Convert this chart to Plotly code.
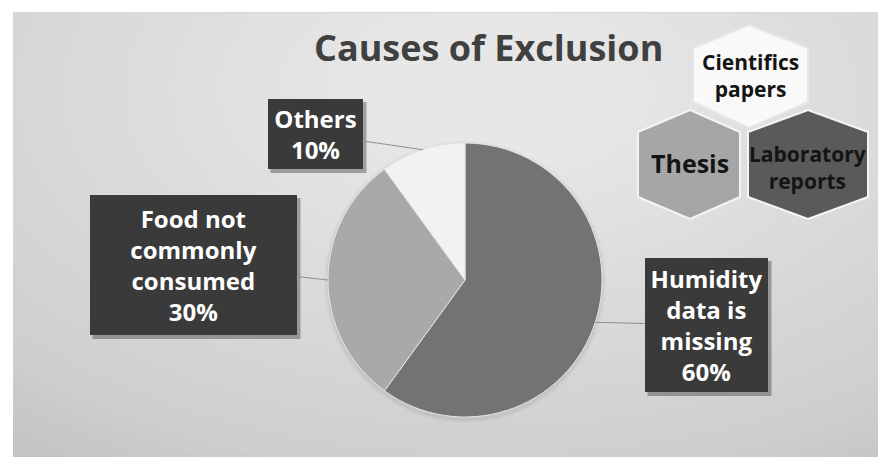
import plotly.graph_objects as go
import math

# ---- data ----
categories = ["Humidity data is missing", "Food not commonly consumed", "Others"]
label_lines = ["Humidity<br>data is<br>missing", "Food not<br>commonly<br>consumed", "Others"]
shares = [60, 30, 10]
slice_colors = ["#737373", "#a9a9a9", "#f2f2f2"]
title_text = "Causes of Exclusion"
hex_labels = ["Cientifics<br>papers", "Thesis", "Laboratory<br>reports"]

W, H = 878, 457
def px(x):
    return x / W
def py(y):
    return 1 - y / H

# pie geometry (pixels)
CX, CY, R = 465, 280, 137

fig = go.Figure()
fig.add_trace(go.Pie(
    labels=categories, values=shares, sort=False, direction="clockwise", rotation=0,
    marker=dict(colors=slice_colors, line=dict(color="#e4e4e4", width=1)),
    textinfo="none", showlegend=False,
    domain=dict(x=[px(CX - R), px(CX + R)], y=[py(CY + R), py(CY - R)]),
))

shapes = []
# background panel
shapes.append(dict(type="rect", xref="paper", yref="paper", x0=px(13), x1=1, y0=0, y1=py(12),
                   fillcolor="#c4c4c4", line=dict(width=0), layer="below"))
# radial light gradient
n = 32
for i in range(n):
    rx = 760 - i * 22
    ry = rx * 0.58
    gx, gy = 490, 90
    shapes.append(dict(type="circle", xref="paper", yref="paper",
                       x0=px(gx - rx), x1=px(gx + rx), y0=py(gy + ry), y1=py(gy - ry),
                       fillcolor="rgba(255,255,255,0.04)", line=dict(width=0), layer="below"))
shapes.append(dict(type="line", xref="paper", yref="paper", x0=px(13), x1=1, y0=py(12.5), y1=py(12.5),
                   line=dict(color="#d8d8d8", width=1), layer="below"))
# soft pie shadow
for k, a in [(4, 0.03), (2, 0.04)]:
    shapes.append(dict(type="circle", xref="paper", yref="paper",
                       x0=px(CX - R - k), x1=px(CX + R + k), y0=py(CY + R + k + 2), y1=py(CY - R - k + 2),
                       fillcolor=f"rgba(0,0,0,{a})", line=dict(width=0), layer="below"))

# label boxes (centre x, centre y, width, height) per category
boxes = [(706, 325, 123, 134), (193, 265, 207, 140), (315, 134, 95, 70)]
for (bx, by, bw, bh) in boxes:
    shapes.append(dict(type="rect", xref="paper", yref="paper",
                       x0=px(bx - bw / 2 + 3), x1=px(bx + bw / 2 + 4),
                       y0=py(by + bh / 2 + 4), y1=py(by - bh / 2 + 3),
                       fillcolor="rgba(0,0,0,0.30)", line=dict(width=0), layer="above"))

# hexagons
hexes = [
    ([(749, 25), (808, 48), (808, 102), (749, 128), (693, 102), (693, 48)], "#f9f9f9", "#e6e6e6", (750, 76), 21),
    ([(690, 110), (740, 132), (740, 197), (690, 219), (638, 197), (638, 132)], "#a6a6a6", "#f4f4f4", (690, 163), 25),
    ([(808, 110), (868, 132), (868, 197), (808, 219), (748, 197), (748, 132)], "#5a5a5a", "#f4f4f4", (807, 167), 21),
]
annotations = []
for (pts, fill, edge, (tx, ty), fs), lab in zip(hexes, hex_labels):
    path = "M " + " L ".join(f"{px(x):.5f},{py(y):.5f}" for x, y in pts) + " Z"
    shapes.append(dict(type="path", xref="paper", yref="paper", path=path,
                       fillcolor=fill, line=dict(color=edge, width=2), layer="above"))
    annotations.append(dict(x=px(tx), y=py(ty), xref="paper", yref="paper", text=lab,
                            showarrow=False, xanchor="center", yanchor="middle",
                            font=dict(family="Open Sans", size=fs, color="#141414", weight="bold")))

# data labels with leader lines pointing at slice mid-angles
total = sum(shares)
cum = 0
for cat, lines, v, (bx, by, bw, bh) in zip(categories, label_lines, shares, boxes):
    mid = (cum + v / 2) / total * 2 * math.pi
    cum += v
    ex = CX + R * math.sin(mid)
    ey = CY - R * math.cos(mid)
    annotations.append(dict(
        x=px(ex), y=py(ey), xref="paper", yref="paper",
        ax=bx - ex, ay=by - ey, axref="pixel", ayref="pixel",
        text=f"{lines}<br>{v}%", showarrow=True, arrowhead=0, arrowwidth=1, arrowcolor="#8f8f8f",
        width=bw, height=bh, bgcolor="#3a3a3a", borderpad=0, borderwidth=0,
        font=dict(family="Open Sans", size=24, color="#ffffff", weight="bold"),
        align="center", valign="middle",
    ))

annotations.append(dict(x=px(488), y=py(48), xref="paper", yref="paper", text=title_text,
                        showarrow=False, xanchor="center", yanchor="middle",
                        font=dict(family="Open Sans", size=36, color="#404040", weight="bold")))

fig.update_layout(
    width=W, height=H, autosize=False,
    margin=dict(l=0, r=0, t=0, b=0),
    paper_bgcolor="#ffffff", plot_bgcolor="rgba(0,0,0,0)",
    shapes=shapes, annotations=annotations,
)
fig.write_html("out.html")
